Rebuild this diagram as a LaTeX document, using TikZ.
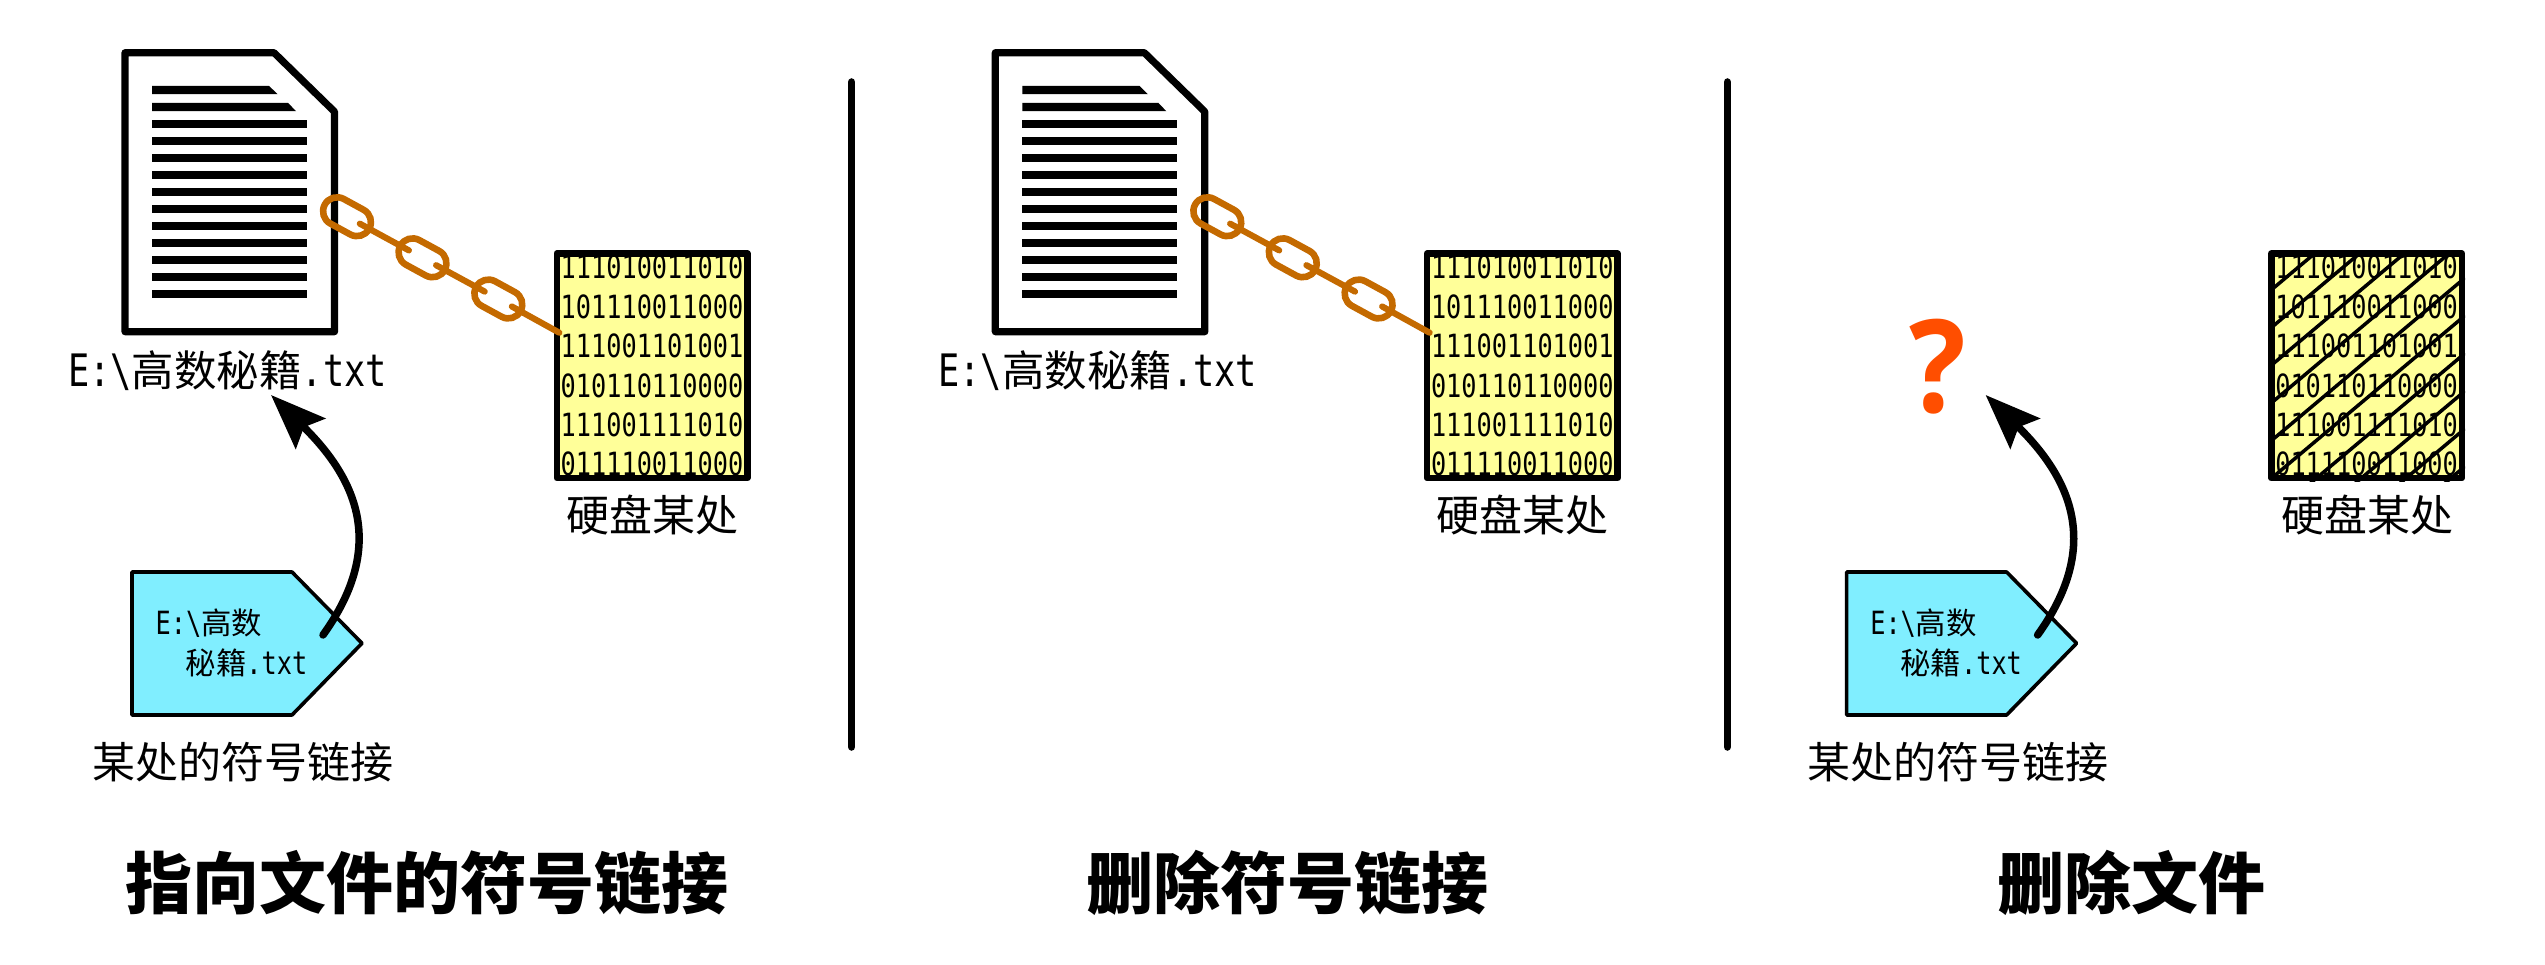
\documentclass[tikz,border=0pt]{standalone}
\usepackage{fontspec}
\usetikzlibrary{arrows.meta,calc}
\newfontfamily\cjk{Noto Sans CJK SC}
\newfontfamily\cjkmono[Scale=0.95]{Noto Sans CJK SC}
\newfontfamily\mono[FakeStretch=0.79]{DejaVu Sans Mono}
\newfontfamily\qfont[FakeStretch=0.92]{Open Sans}
\definecolor{diskyellow}{HTML}{FFFF99}
\definecolor{tagcyan}{HTML}{80EEFF}
\definecolor{chainbrown}{HTML}{C46A00}
\definecolor{queryred}{HTML}{FF4E00}
\tikzset{
	sepline/.style={line width=7.5pt,line cap=round},
	docline/.style={line width=7.2pt,line join=round},
	disktext/.style={draw,fill=diskyellow,line width=6.5pt,line join=round,minimum width=190.5pt,minimum height=224.5pt,inner sep=0pt,align=center,font=\mono\fontsize{32}{39.4}\selectfont},
	taglabel/.style={inner sep=0pt,align=left,font=\mono\fontsize{32}{40}\selectfont},
	caption/.style={inner sep=0pt,font=\cjk\fontsize{43}{43}\selectfont},
	filename/.style={inner sep=0pt,font=\mono\fontsize{44.7}{45}\selectfont},
	headline/.style={inner sep=0pt,font=\cjk\bfseries\fontsize{67}{67}\selectfont},
	chainlink/.style={draw=chainbrown,line width=6.6pt,minimum width=50.6pt,minimum height=28pt,rounded corners=13.9pt,rotate=-28.6,inner sep=0pt},
	chainbar/.style={draw=chainbrown,line width=6.2pt,line cap=round},
	tagline/.style={draw,fill=tagcyan,line width=3.6pt,line join=round},
	pointer/.style={line width=7.5pt,line cap=round,-{Stealth[length=55pt,width=42pt,inset=9pt]}},
	hatchline/.style={line width=3.5pt}
}
\begin{document}
\begin{tikzpicture}[x=1pt,y=-1pt]
	\useasboundingbox (0,0) rectangle (2545,965);

	\foreach \i/\sx in {1/851.7,2/1727.3}{
		\coordinate (septop\i) at (\sx,82);
		\coordinate (sepbot\i) at (\sx,747);
		\draw[sepline] (septop\i) -- (sepbot\i);
	}

	\foreach \dx/\nm in {0/a,870.3/b}{
		\begin{scope}[xshift=\dx]
			\draw[docline] (125,52.7) -- (274,52.7) -- (334.5,111.7) -- (334.5,331.7) -- (125,331.7) -- cycle;
			\fill (152,85.8) -- (269,85.8) -- (277.5,94.2) -- (152,94.2) -- cycle;
			\fill (152,102.8) -- (288,102.8) -- (296,111.2) -- (152,111.2) -- cycle;
			\foreach \k in {2,...,12}{
				\fill (152,85.8+17*\k) rectangle (307,94.2+17*\k);
			}
			\node[filename] (file\nm) at (227.5,371) {E:\textbackslash{\cjkmono 高数秘籍}.txt};
		\end{scope}
	}

	\foreach \dx/\nm in {0/a,870.3/b,1714.6/c}{
		\begin{scope}[xshift=\dx]
			\node[disktext] (disk\nm) at (652,365.8) {111010011010\\101110011000\\111001101001\\010110110000\\111001111010\\011110011000};
			\node[caption] (where\nm) at (652.5,515) {硬盘某处};
		\end{scope}
	}

	\foreach \dx/\nm in {0/a,870.3/b}{
		\begin{scope}[xshift=\dx]
			\node[chainlink] (linkone\nm) at (347,216.7) {};
			\node[chainlink] (linktwo\nm) at (422.5,257.8) {};
			\node[chainlink] (linkthree\nm) at (498.3,299) {};
			\coordinate (chainend\nm) at (559.3,332.7);
			\draw[chainbar] ($(linkone\nm)!14.6pt!(linktwo\nm)$) -- ($(linktwo\nm)!15.5pt!(linkone\nm)$);
			\draw[chainbar] ($(linktwo\nm)!15.5pt!(linkthree\nm)$) -- ($(linkthree\nm)!15.5pt!(linktwo\nm)$);
			\draw[chainbar] ($(linkthree\nm)!15.5pt!(chainend\nm)$) -- (chainend\nm);
		\end{scope}
	}

	\begin{scope}
		\clip (diskc.south west) rectangle (diskc.north east);
		\foreach \k in {0,...,9}{
			\draw[hatchline] (2270,291+37.7*\k) -- ++(195,-164);
		}
	\end{scope}

	\foreach \dx/\nm in {0/a,1714.6/c}{
		\begin{scope}[xshift=\dx]
			\draw[tagline] (132,572) -- (292,572) -- (362,643.3) -- (292,715) -- (132,715) -- cycle;
			\node[taglabel] (tagtext\nm) at (231.5,643) {E:\textbackslash{\cjkmono 高数}\\\hspace*{30pt}{\cjkmono 秘籍}.txt};
			\node[caption] (linkname\nm) at (243,761.7) {某处的符号链接};
			\coordinate (pointfrom\nm) at (323,635);
			\coordinate (pointto\nm) at (271,395);
			\draw[pointer] (pointfrom\nm) .. controls (385,548.6) and (360,482) .. (pointto\nm);
		\end{scope}
	}

	\node[text=queryred,inner sep=0pt,font=\qfont\bfseries\fontsize{129}{129}\selectfont] (query) at (1937.5,366.5) {?};

	\node[headline] (titlea) at (426.5,883) {指向文件的符号链接};
	\node[headline] (titleb) at (1287.5,883) {删除符号链接};
	\node[headline] (titlec) at (2131,883) {删除文件};
\end{tikzpicture}
\end{document}
